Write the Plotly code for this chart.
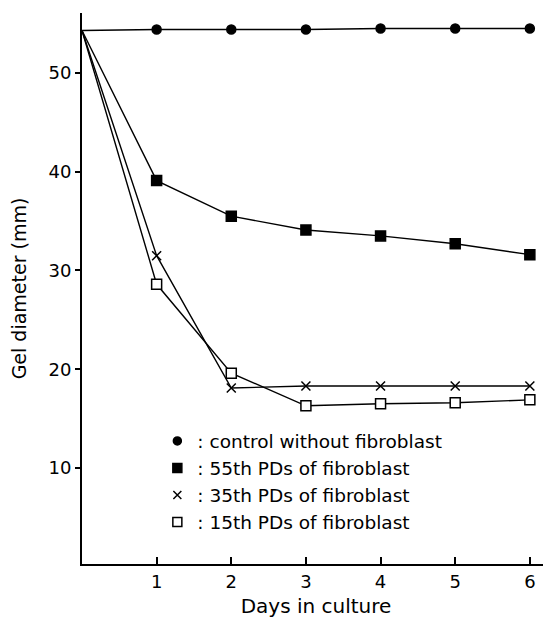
import plotly.graph_objects as go

days = [0, 1, 2, 3, 4, 5, 6]
control = [54.3, 54.4, 54.4, 54.4, 54.5, 54.5, 54.5]
pd55 = [54.3, 39.1, 35.5, 34.1, 33.5, 32.7, 31.6]
pd35 = [54.3, 31.5, 18.1, 18.3, 18.3, 18.3, 18.3]
pd15 = [54.3, 28.6, 19.6, 16.3, 16.5, 16.6, 16.9]

names = [": control without fibroblast", ": 55th PDs of fibroblast",
         ": 35th PDs of fibroblast", ": 15th PDs of fibroblast"]
series = [control, pd55, pd35, pd15]
symbols = ["circle", "square", "x-thin-open", "square"]
fills = ["black", "black", "black", "white"]
sizes = [9, 10, 9, 10]

fig = go.Figure()
for ys, sym, fc, sz in zip(series, symbols, fills, sizes):
    fig.add_trace(go.Scatter(
        x=days, y=ys, mode="lines+markers", showlegend=False,
        line=dict(color="black", width=1.4),
        marker=dict(symbol=sym, size=[0] + [sz] * (len(days) - 1), color=fc,
                    opacity=1, line=dict(color="black", width=1.5)),
        cliponaxis=False,
    ))
for i, (nm, sym, fc, sz) in enumerate(zip(names, symbols, fills, sizes)):
    fig.add_trace(go.Scatter(
        x=[None], y=[None], mode="markers", name=nm, legendgroup=str(i),
        marker=dict(symbol=sym, size=sz - 1, color=fc, opacity=1,
                    line=dict(color="black", width=1.5)),
    ))

# the page body has an 8px margin; compensate so the plot lands where the reference has it
fig.update_layout(
    width=543, height=612,
    margin=dict(l=74, r=1, t=5, b=56),
    paper_bgcolor="white", plot_bgcolor="white",
    font=dict(family="DejaVu Sans", color="black"),
    legend=dict(x=0.161, y=0.257, xanchor="left", yanchor="top",
                font=dict(size=18.5), bgcolor="rgba(0,0,0,0)",
                traceorder="grouped", tracegroupgap=0),
    xaxis=dict(range=[0, 6.27], tickvals=[1, 2, 3, 4, 5, 6],
               ticks="inside", ticklen=7, tickwidth=1.5, tickcolor="black",
               showline=True, linecolor="black", linewidth=2,
               showgrid=False, zeroline=False,
               tickfont=dict(size=18),
               title=dict(text="Days in culture", font=dict(size=20), standoff=8)),
    yaxis=dict(range=[0.28, 56.07], tickvals=[10, 20, 30, 40, 50],
               ticks="outside", ticklen=5, tickwidth=1.5, tickcolor="black",
               showline=True, linecolor="black", linewidth=2,
               showgrid=False, zeroline=False,
               tickfont=dict(size=18),
               title=dict(text="Gel diameter (mm)", font=dict(size=19), standoff=18)),
)

fig.write_html("out.html")
